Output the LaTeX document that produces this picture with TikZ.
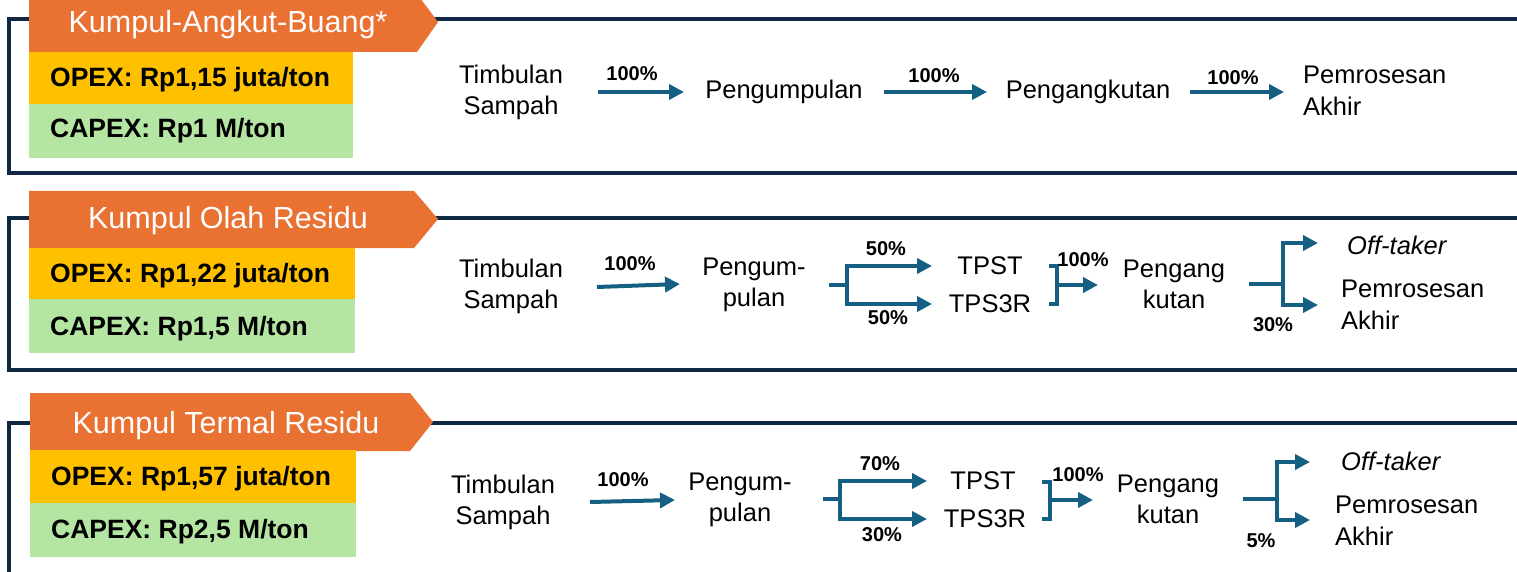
\documentclass[tikz,border=0pt]{standalone}
\usepackage{fontspec}
\setmainfont{Liberation Sans}
\usetikzlibrary{arrows.meta}
\definecolor{frameC}{HTML}{0E2841}
\definecolor{acc}{HTML}{156082}
\definecolor{orangeC}{HTML}{E97132}
\definecolor{yellowC}{HTML}{FFC000}
\definecolor{greenC}{HTML}{B4E5A2}
\tikzset{
  flow/.style={font=\fontsize{25.5}{31}\selectfont, align=center, inner sep=0pt},
  flowL/.style={font=\fontsize{25.5}{32}\selectfont, align=left, inner sep=0pt, anchor=west},
  pct/.style={font=\bfseries\fontsize{20}{22}\selectfont, inner sep=0pt},
  arr/.style={draw=acc, line width=4pt, -{Triangle[length=15pt,width=15pt]}},
  conn/.style={draw=acc, line width=4pt},
  frame/.style={draw=frameC, line width=3.5pt},
  bannerT/.style={text=white, font=\fontsize{30.5}{32}\selectfont, anchor=base, inner sep=0pt},
  costT/.style={font=\bfseries\fontsize{26.5}{28}\selectfont, anchor=base west, inner sep=0pt},
}
\begin{document}
\begin{tikzpicture}[x=1pt,y=-1pt]
\useasboundingbox (0,0) rectangle (1517,572);
\clip (0,0) rectangle (1517,572);
\fill[white] (0,0) rectangle (1517,572);

% ===== frames =====
\draw[frame] (9,19) rectangle (1540,173);
\draw[frame] (9,218) rectangle (1540,370);
\draw[frame] (9,423) rectangle (1540,620);

% ===== banners and cost boxes =====
\fill[orangeC] (29,-6) -- (417,-6) -- (438,22) -- (417,52) -- (29,52) -- cycle;
\node[bannerT] (b1) at (228,33) {Kumpul-Angkut-Buang*};
\fill[yellowC] (29,52) rectangle (353,104);
\fill[greenC] (29,104) rectangle (353,158);
\node[costT] (op1) at (50,87) {OPEX: Rp1,15 juta/ton};
\node[costT] (cp1) at (50,138) {CAPEX: Rp1 M/ton};

\fill[orangeC] (29,191) -- (414,191) -- (438,219) -- (414,248) -- (29,248) -- cycle;
\node[bannerT] (b2) at (228,229) {Kumpul Olah Residu};
\fill[yellowC] (29,248) rectangle (355,299);
\fill[greenC] (29,299) rectangle (355,353);
\node[costT] (op2) at (50,282) {OPEX: Rp1,22 juta/ton};
\node[costT] (cp2) at (50,335) {CAPEX: Rp1,5 M/ton};

\fill[orangeC] (30,393) -- (410,393) -- (433,422) -- (410,451) -- (30,451) -- cycle;
\node[bannerT] (b3) at (226,433) {Kumpul Termal Residu};
\fill[yellowC] (30,450) rectangle (356,503);
\fill[greenC] (30,503) rectangle (356,557);
\node[costT] (op3) at (51,485) {OPEX: Rp1,57 juta/ton};
\node[costT] (cp3) at (51,538) {CAPEX: Rp2,5 M/ton};

% ===== section 1 flow =====
\node[flow] (t1) at (511,92) {Timbulan\\Sampah};
\node[flow] (k1) at (784,92) {Pengumpulan};
\node[flow] (a1) at (1088,92) {Pengangkutan};
\node[flowL] (p1) at (1303,91) {Pemrosesan\\Akhir};
\coordinate (e1a) at (598,92); \coordinate (e1b) at (684,92);
\coordinate (e2a) at (884,92); \coordinate (e2b) at (987,92);
\coordinate (e3a) at (1190,92); \coordinate (e3b) at (1284,92);
\draw[arr] (e1a) -- (e1b);
\draw[arr] (e2a) -- (e2b);
\draw[arr] (e3a) -- (e3b);
\node[pct] (l11) at (632,74) {100\%};
\node[pct] (l12) at (934,76) {100\%};
\node[pct] (l13) at (1233,78) {100\%};

% ===== section 2 flow =====
\node[flow] (t2) at (511,286) {Timbulan\\Sampah};
\node[flow] (k2) at (754,285) {Pengum-\\pulan};
\node[flow] (s2a) at (990,266) {TPST};
\node[flow] (s2b) at (990,304) {TPS3R};
\node[flow] (a2) at (1174,284) {Pengang\\kutan};
\node[flowL, font=\itshape\fontsize{25.5}{31}\selectfont] (o2) at (1347,245) {Off-taker};
\node[flowL] (p2) at (1341,305) {Pemrosesan\\Akhir};
\coordinate (f2a) at (597,287); \coordinate (f2b) at (680,284);
\draw[arr] (f2a) -- (f2b);
\node[pct] (l21) at (630,264) {100\%};
% split 1
\coordinate (g2s) at (829,285); \coordinate (g2v) at (847,285);
\coordinate (g2t) at (932,266); \coordinate (g2b) at (932,304);
\draw[conn] (g2s) -- (g2v);
\draw[arr] (g2v) |- (g2t);
\draw[arr] (g2v) |- (g2b);
\node[pct] (l22) at (886,249) {50\%};
\node[pct] (l23) at (888,318) {50\%};
% merge
\coordinate (m2t) at (1049,266); \coordinate (m2b) at (1049,304);
\coordinate (m2v) at (1057,285); \coordinate (m2e) at (1098,285);
\draw[conn] (m2t) -- (1057,266) -- (1057,304) -- (m2b);
\draw[arr] (m2v) -- (m2e);
\node[pct] (l24) at (1083,260) {100\%};
% split 2
\coordinate (h2s) at (1249,284); \coordinate (h2v) at (1283,284);
\coordinate (h2t) at (1318,243); \coordinate (h2b) at (1318,305);
\draw[conn] (h2s) -- (h2v);
\draw[arr] (h2v) |- (h2t);
\draw[arr] (h2v) |- (h2b);
\node[pct] (l25) at (1273,325) {30\%};

% ===== section 3 flow =====
\node[flow] (t3) at (503,502) {Timbulan\\Sampah};
\node[flow] (k3) at (740,500) {Pengum-\\pulan};
\node[flow] (s3a) at (983,481) {TPST};
\node[flow] (s3b) at (985,519) {TPS3R};
\node[flow] (a3) at (1168,499) {Pengang\\kutan};
\node[flowL, font=\itshape\fontsize{25.5}{31}\selectfont] (o3) at (1341,461) {Off-taker};
\node[flowL] (p3) at (1335,521) {Pemrosesan\\Akhir};
\coordinate (f3a) at (590,502); \coordinate (f3b) at (675,500);
\draw[arr] (f3a) -- (f3b);
\node[pct] (l31) at (623,480) {100\%};
% split 1
\coordinate (g3s) at (823,499); \coordinate (g3v) at (840,499);
\coordinate (g3t) at (927,481); \coordinate (g3b) at (927,519);
\draw[conn] (g3s) -- (g3v);
\draw[arr] (g3v) |- (g3t);
\draw[arr] (g3v) |- (g3b);
\node[pct] (l32) at (880,464) {70\%};
\node[pct] (l33) at (882,535) {30\%};
% merge
\coordinate (m3t) at (1042,482); \coordinate (m3b) at (1042,519);
\coordinate (m3v) at (1050,500); \coordinate (m3e) at (1093,500);
\draw[conn] (m3t) -- (1050,482) -- (1050,519) -- (m3b);
\draw[arr] (m3v) -- (m3e);
\node[pct] (l34) at (1078,475) {100\%};
% split 2
\coordinate (h3s) at (1243,499); \coordinate (h3v) at (1277,499);
\coordinate (h3t) at (1310,462); \coordinate (h3b) at (1310,520);
\draw[conn] (h3s) -- (h3v);
\draw[arr] (h3v) |- (h3t);
\draw[arr] (h3v) |- (h3b);
\node[pct] (l35) at (1261,541) {5\%};
\end{tikzpicture}
\end{document}
